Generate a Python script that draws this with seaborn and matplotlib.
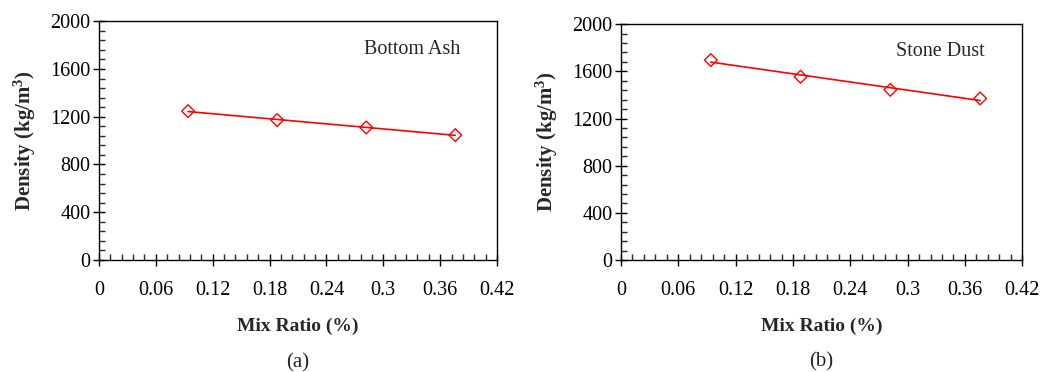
import numpy as np
import pandas as pd
import matplotlib
matplotlib.use("Agg")
import matplotlib.pyplot as plt
from matplotlib.ticker import MultipleLocator
import seaborn as sns

# данные
mix_ratio = [0.094, 0.188, 0.282, 0.376]
density_bottom_ash = [1247, 1172, 1110, 1046]
density_stone_dust = [1695, 1554, 1443, 1370]
panel_titles = ["Bottom Ash", "Stone Dust"]
panel_labels = ["(a)", "(b)"]
x_ticks = [0, 0.06, 0.12, 0.18, 0.24, 0.3, 0.36, 0.42]
y_ticks = [0, 400, 800, 1200, 1600, 2000]

sns.set_style("ticks")
plt.rcParams["font.family"] = ["Liberation Serif", "DejaVu Serif"]
plt.rcParams["mathtext.fontset"] = "custom"
plt.rcParams["mathtext.rm"] = "Liberation Serif"
plt.rcParams["mathtext.bf"] = "Liberation Serif:bold"


def draw_panel(ax, values, title, label):
    df = pd.DataFrame({"ratio": mix_ratio, "density": values})
    # линия тренда
    sns.regplot(data=df, x="ratio", y="density", ax=ax, scatter=False,
                ci=None, truncate=True, color="#ff0000",
                line_kws={"lw": 1.2})
    # точки
    sns.scatterplot(data=df, x="ratio", y="density", ax=ax, marker="D",
                    s=42, fc="none", ec="#ff0000", linewidth=1.0, zorder=3)

    ax.set_xlim(0, 0.42)
    ax.set_ylim(0, 2000)
    ax.set_xticks(x_ticks)
    ax.set_xticklabels([f"{t:g}" for t in x_ticks])
    ax.set_yticks(y_ticks)
    ax.xaxis.set_minor_locator(MultipleLocator(0.012))
    ax.yaxis.set_minor_locator(MultipleLocator(80))
    ax.tick_params(which="major", direction="inout", length=8, width=1,
                   labelsize=14.5, colors="black", pad=11)
    ax.tick_params(axis="y", which="major", pad=2)
    ax.tick_params(which="minor", direction="in", length=4, width=1)
    for sp in ax.spines.values():
        sp.set_visible(True)
        sp.set_linewidth(1.0)
        sp.set_color("black")

    ax.set_xlabel("Mix Ratio (%)", fontsize=14, fontweight="bold", labelpad=13)
    ax.set_ylabel(r"Density (kg/m$\mathbf{^3}$)", fontsize=15,
                  fontweight="bold", labelpad=9)
    ax.text(0.907, 0.883, title, transform=ax.transAxes, ha="right",
            va="center", fontsize=14.5)
    ax.text(0.5, -0.43, label, transform=ax.transAxes, ha="center",
            va="center", fontsize=15)


fig = plt.figure(figsize=(10.42, 3.72), dpi=100)
ax1 = fig.add_axes([0.095, 0.301, 0.382, 0.642])
ax2 = fig.add_axes([0.596, 0.301, 0.385, 0.634])

draw_panel(ax1, density_bottom_ash, panel_titles[0], panel_labels[0])
draw_panel(ax2, density_stone_dust, panel_titles[1], panel_labels[1])

fig.savefig("out.png", dpi=100)
